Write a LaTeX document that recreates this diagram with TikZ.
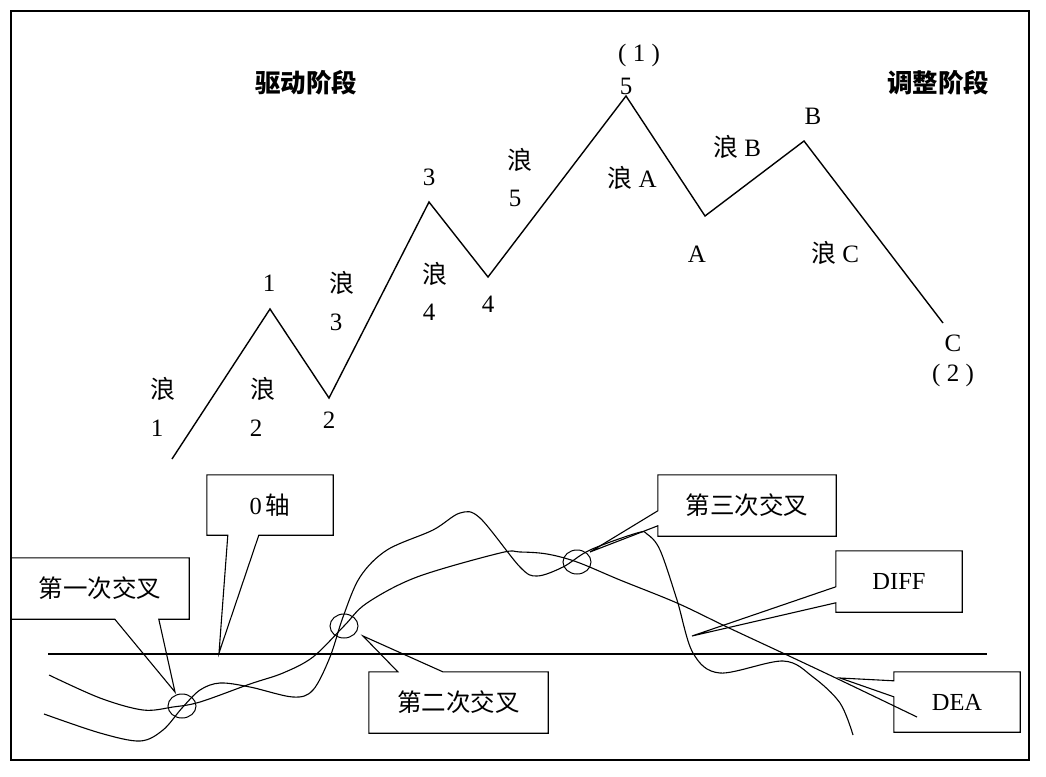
\documentclass[tikz,border=0pt]{standalone}
\usepackage{fontspec}
\setmainfont{Liberation Serif}
\newfontfamily\cjk{Noto Sans CJK SC}
\usetikzlibrary{positioning}
\usetikzlibrary{calc,shapes.geometric}
\tikzstyle{lbl} = [inner sep=1pt, font=\fontsize{25}{28}\selectfont]
\tikzstyle{title} = [inner sep=1pt, font=\fontsize{25.5}{29}\selectfont\cjk\bfseries]
\tikzstyle{callbox} = [inner sep=0pt, font=\fontsize{24.5}{28}\selectfont]
\tikzstyle{crossmark} = [ellipse, draw, line width=1pt, minimum width=28pt, minimum height=24pt, inner sep=0pt]
\tikzstyle{wave} = [line width=1.4pt, line join=miter]
\tikzstyle{macd} = [line width=1.1pt]

\begin{document}
\begin{tikzpicture}[x=1pt,y=-1pt]
\useasboundingbox (0,0) rectangle (1046,776);
\draw[line width=1.6pt] (11,11) rectangle (1029,760);

% wave points
\coordinate (w0) at (172,459);
\coordinate (w1) at (270,309);
\coordinate (w2) at (329,398);
\coordinate (w3) at (429,202);
\coordinate (w4) at (488,277);
\coordinate (w5) at (626,96);
\coordinate (wA) at (705,216);
\coordinate (wB) at (804,141);
\coordinate (wC) at (943,323);
\draw[wave] (w0)--(w1)--(w2)--(w3)--(w4)--(w5)--(wA)--(wB)--(wC);

\node[title] (drive) at (306,83) {驱动阶段};
\node[title] (adjust) at (938,83) {调整阶段};

\node[lbl] (lang1) at (163,389) {\cjk 浪};
\node[lbl] (num1) at (157,428) {1};
\node[lbl] (top1) at (269,283) {1};
\node[lbl] (lang2) at (263,389) {\cjk 浪};
\node[lbl] (num2) at (256,428) {2};
\node[lbl] (bot2) at (329,420) {2};
\node[lbl] (lang3) at (342,283) {\cjk 浪};
\node[lbl] (num3) at (336,322) {3};
\node[lbl] (top3) at (429,177) {3};
\node[lbl] (lang4) at (435,274) {\cjk 浪};
\node[lbl] (num4) at (429,312) {4};
\node[lbl] (bot4) at (488,304) {4};
\node[lbl] (lang5) at (520,160) {\cjk 浪};
\node[lbl] (num5) at (515,198) {5};
\node[lbl] (par1) at (639,55) {( 1 )};
\node[lbl] (top5) at (626,86) {5};
\node[lbl] (langA) at (632,178) {{\cjk 浪} A};
\node[lbl] (botA) at (697,254) {A};
\node[lbl] (langB) at (737,147) {{\cjk 浪} B};
\node[lbl] (topB) at (813,116) {B};
\node[lbl] (langC) at (835,253) {{\cjk 浪} C};
\node[lbl] (botC) at (953,343) {C};
\node[lbl] (par2) at (953,375) {( 2 )};

% zero axis and lines
\coordinate (ax0) at (48,654);
\coordinate (ax1) at (987,654);
\draw[macd] (ax0)--(ax1);
\draw[macd] plot[smooth, tension=0.55] coordinates {(44,714) (100,733) (140,741) (163,730) (182,708) (200,690) (220,683) (250,687) (293,697) (313,690) (330,657) (343,617) (360,577) (387,550) (433,530) (460,513) (480,518) (520,567) (537,576) (563,567) (590,550) (637,533) (647,534) (660,550) (677,600) (693,653) (720,673) (783,661) (813,677) (840,703) (853,735)};
\draw[macd] plot[smooth, tension=0.55] coordinates {(49,675) (100,698) (143,710) (173,707) (200,702) (250,684) (283,673) (313,657) (344,626) (367,603) (417,577) (500,553) (520,552) (547,554) (577,562) (620,580) (677,603) (727,627) (787,655) (840,680) (917,717)};

\node[crossmark] (x1) at (182,706) {};
\node[crossmark] (x2) at (344,626) {};
\node[crossmark] (x3) at (577,562) {};

% callouts
\coordinate (zerotip) at (219,653);
\coordinate (firsttip) at (175,692);
\coordinate (secondtip) at (363,636);
\coordinate (thirdtip) at (590,552);
\coordinate (difftip) at (692,636);
\coordinate (deatip) at (840,678);

\node[callbox, minimum width=126pt, minimum height=60pt] (zero) at (270,505) {0\,{\cjk 轴}};
\draw[macd] (zero.south west) -- (zero.north west) -- (zero.north east) -- (zero.south east) -- ($(zero.south west)+(52,0)$) -- (zerotip) -- ($(zero.south west)+(21,0)$) -- cycle;

\node[callbox, minimum width=178pt, minimum height=61pt] (first) at (100,588.5) {\cjk 第一次交叉};
\draw[macd] (first.south west) -- (first.north west) -- (first.north east) -- (first.south east) -- ($(first.south west)+(148,0)$) -- (firsttip) -- ($(first.south west)+(104,0)$) -- cycle;

\node[callbox, minimum width=179pt, minimum height=61pt] (second) at (458.5,702.5) {\cjk 第二次交叉};
\draw[macd] (second.north west) -- ($(second.north west)+(29,0)$) -- (secondtip) -- ($(second.north west)+(74,0)$) -- (second.north east) -- (second.south east) -- (second.south west) -- cycle;

\node[callbox, minimum width=178pt, minimum height=61pt] (third) at (747,505.5) {\cjk 第三次交叉};
\draw[macd] (third.north west) -- (third.north east) -- (third.south east) -- (third.south west) -- ($(third.north west)+(0,51)$) -- (thirdtip) -- ($(third.north west)+(0,36)$) -- cycle;

\node[callbox, minimum width=126pt, minimum height=61pt] (diff) at (899,581.5) {DIFF};
\draw[macd] (diff.north west) -- (diff.north east) -- (diff.south east) -- (diff.south west) -- ($(diff.north west)+(0,52)$) -- (difftip) -- ($(diff.north west)+(0,36)$) -- cycle;

\node[callbox, minimum width=126pt, minimum height=60pt] (dea) at (957,702) {DEA};
\draw[macd] (dea.north west) -- (dea.north east) -- (dea.south east) -- (dea.south west) -- ($(dea.north west)+(0,25)$) -- (deatip) -- ($(dea.north west)+(0,9)$) -- cycle;
\end{tikzpicture}
\end{document}
